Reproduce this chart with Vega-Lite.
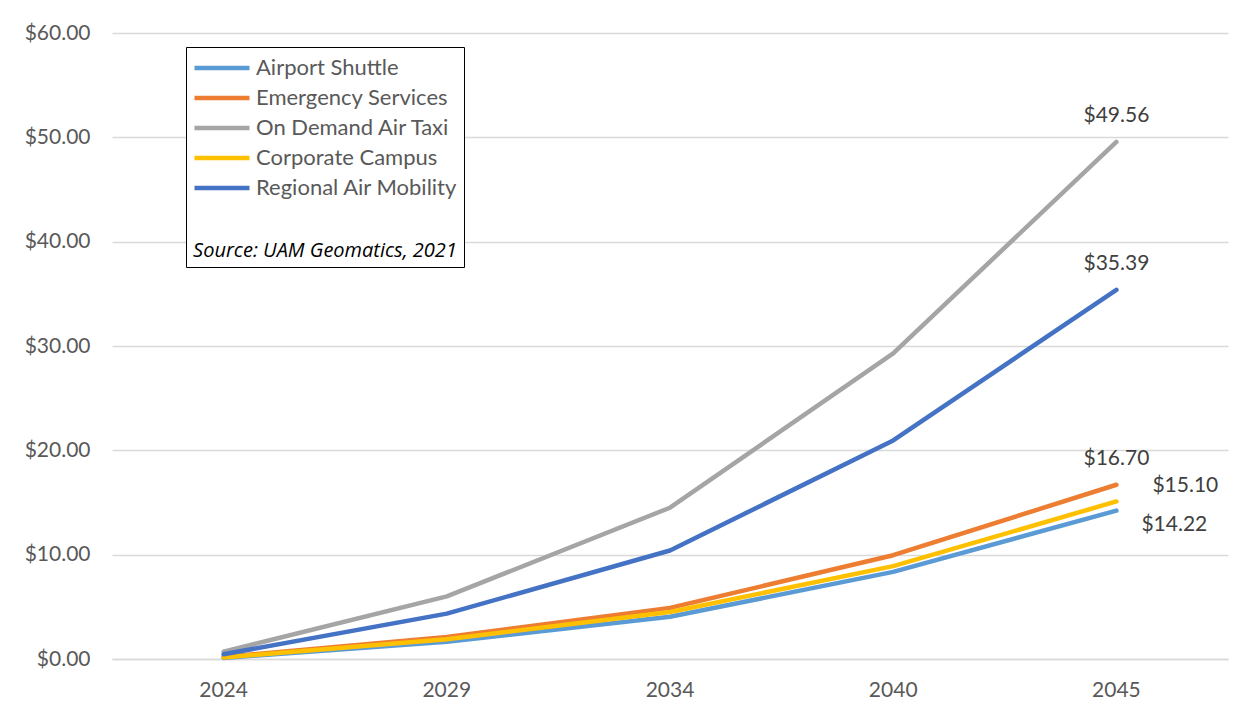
{
  "$schema": "https://vega.github.io/schema/vega-lite/v6.json",
  "width": 1116,
  "height": 626,
  "autosize": {"type": "none"},
  "padding": {"left": 112, "top": 33, "right": 25, "bottom": 64},
  "background": "#ffffff",
  "config": {
    "font": "Lato",
    "view": {"stroke": null},
    "axis": {"labelColor": "#595959", "labelFont": "Lato", "labelFontSize": 21, "ticks": false, "domain": false, "title": null}
  },
  "data": {
    "values": [
      {"year": "2024", "series": "Airport Shuttle", "value": 0.1},
      {"year": "2029", "series": "Airport Shuttle", "value": 1.65},
      {"year": "2034", "series": "Airport Shuttle", "value": 4.05},
      {"year": "2040", "series": "Airport Shuttle", "value": 8.35},
      {"year": "2045", "series": "Airport Shuttle", "value": 14.22},
      {"year": "2024", "series": "Emergency Services", "value": 0.2},
      {"year": "2029", "series": "Emergency Services", "value": 2.1},
      {"year": "2034", "series": "Emergency Services", "value": 4.9},
      {"year": "2040", "series": "Emergency Services", "value": 9.95},
      {"year": "2045", "series": "Emergency Services", "value": 16.70},
      {"year": "2024", "series": "On Demand Air Taxi", "value": 0.7},
      {"year": "2029", "series": "On Demand Air Taxi", "value": 6.0},
      {"year": "2034", "series": "On Demand Air Taxi", "value": 14.5},
      {"year": "2040", "series": "On Demand Air Taxi", "value": 29.3},
      {"year": "2045", "series": "On Demand Air Taxi", "value": 49.56},
      {"year": "2024", "series": "Corporate Campus", "value": 0.15},
      {"year": "2029", "series": "Corporate Campus", "value": 1.9},
      {"year": "2034", "series": "Corporate Campus", "value": 4.5},
      {"year": "2040", "series": "Corporate Campus", "value": 8.9},
      {"year": "2045", "series": "Corporate Campus", "value": 15.10},
      {"year": "2024", "series": "Regional Air Mobility", "value": 0.45},
      {"year": "2029", "series": "Regional Air Mobility", "value": 4.35},
      {"year": "2034", "series": "Regional Air Mobility", "value": 10.4},
      {"year": "2040", "series": "Regional Air Mobility", "value": 20.95},
      {"year": "2045", "series": "Regional Air Mobility", "value": 35.39}
    ]
  },
  "encoding": {
    "x": {
      "field": "year", "type": "ordinal",
      "scale": {"type": "band", "paddingInner": 0, "paddingOuter": 0},
      "axis": {"labelAngle": 0, "labelPadding": 20, "grid": false, "domain": true, "domainColor": "#d9d9d9", "domainWidth": 1.3}
    },
    "y": {
      "field": "value", "type": "quantitative",
      "scale": {"domain": [0, 60]},
      "axis": {"values": [0, 10, 20, 30, 40, 50, 60], "format": "$.2f", "labelPadding": 22, "grid": true, "gridColor": "#d9d9d9", "gridWidth": 1.3}
    }
  },
  "layer": [
    {
      "mark": {"type": "line", "strokeWidth": 4.5, "strokeCap": "round", "strokeJoin": "round"},
      "encoding": {
        "color": {
          "field": "series", "type": "nominal",
          "scale": {
            "domain": ["Airport Shuttle", "Emergency Services", "On Demand Air Taxi", "Corporate Campus", "Regional Air Mobility"],
            "range": ["#5B9BD5", "#ED7D31", "#A5A5A5", "#FFC000", "#4472C4"]
          },
          "legend": {
            "title": "Source: UAM Geomatics, 2021",
            "titleOrient": "bottom",
            "titleFont": "Open Sans",
            "titleFontStyle": "italic",
            "titleFontWeight": "normal",
            "titleFontSize": 20,
            "titleColor": "#000000",
            "titlePadding": 38,
            "titleAnchor": "middle",
            "titleLimit": 500,
            "orient": "none",
            "legendX": 74,
            "legendY": 14,
            "padding": 6,
            "strokeColor": "#000000",
            "fillColor": "#ffffff",
            "symbolType": "stroke",
            "symbolSize": 3025,
            "symbolStrokeWidth": 4.5,
            "labelFontSize": 22,
            "labelColor": "#595959",
            "labelOffset": 4,
            "clipHeight": 30,
            "rowPadding": 0,
            "labelLimit": 400
          }
        }
      }
    },
    {
      "transform": [{"filter": "datum.year == '2045' && (datum.series == 'On Demand Air Taxi' || datum.series == 'Regional Air Mobility' || datum.series == 'Emergency Services')"}],
      "mark": {"type": "text", "dy": -26, "fontSize": 21, "color": "#404040"},
      "encoding": {"text": {"field": "value", "type": "quantitative", "format": "$.2f"}}
    },
    {
      "transform": [{"filter": "datum.year == '2045' && datum.series == 'Corporate Campus'"}],
      "mark": {"type": "text", "dx": 36, "dy": -15, "align": "left", "fontSize": 21, "color": "#404040"},
      "encoding": {"text": {"field": "value", "type": "quantitative", "format": "$.2f"}}
    },
    {
      "transform": [{"filter": "datum.year == '2045' && datum.series == 'Airport Shuttle'"}],
      "mark": {"type": "text", "dx": 25, "dy": 14, "align": "left", "fontSize": 21, "color": "#404040"},
      "encoding": {"text": {"field": "value", "type": "quantitative", "format": "$.2f"}}
    }
  ]
}
